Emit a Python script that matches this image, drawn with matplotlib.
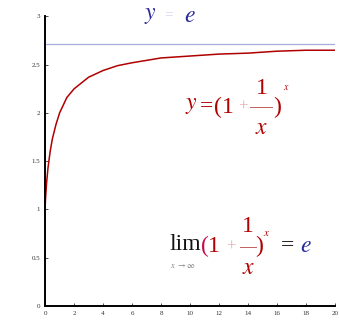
import matplotlib
matplotlib.use("Agg")
import matplotlib.pyplot as plt
from matplotlib.lines import Line2D

plt.rcParams['font.family'] = 'serif'
plt.rcParams['font.serif'] = ['Liberation Serif', 'DejaVu Serif']
plt.rcParams['mathtext.fontset'] = 'stix'

# Werte
x_vals = [0.005, 0.03, 0.1, 0.2, 0.35, 0.5, 0.75, 1.0, 1.5, 2.0, 3.0, 4.0, 5.0,
          6.0, 8.0, 10.0, 12.0, 14.0, 16.0, 18.0, 20.0]
y_vals = [1.03, 1.11, 1.27, 1.43, 1.60, 1.73, 1.88, 2.00, 2.16, 2.25, 2.37, 2.44,
          2.49, 2.52, 2.57, 2.59, 2.61, 2.62, 2.64, 2.65, 2.65]
e_level = 2.718
x_ticks = [0, 2, 4, 6, 8, 10, 12, 14, 16, 18, 20]
y_ticks = [0, 0.5, 1, 1.5, 2, 2.5, 3]
y_ticklabels = ['0', '0.5', '1', '1.5', '2', '2.5', '3']

W, H = 339, 323
red = '#b00000'
blue = '#2a2a9a'
faint_red = '#e8b0b0'

fig = plt.figure(figsize=(W / 100, H / 100), dpi=100)
ax = fig.add_axes([0.133, 0.053, 0.855, 0.896])

ax.axhline(e_level, color='#a4aed6', lw=0.9)
ax.plot(x_vals, y_vals, color=red, lw=1.1)

ax.set_xlim(0, 20)
ax.set_ylim(0, 3)
ax.set_xticks(x_ticks)
ax.set_yticks(y_ticks)
ax.set_xticklabels([str(t) for t in x_ticks])
ax.set_yticklabels(y_ticklabels)
ax.tick_params(labelsize=5, length=2, width=0.6, direction='in', colors='#333333')
ax.spines['top'].set_visible(False)
ax.spines['right'].set_visible(False)
ax.spines['left'].set_linewidth(1.4)
ax.spines['bottom'].set_linewidth(1.4)


# Text in Pixelkoordinaten setzen
def txt(px, py, s, color, size=17):
    fig.text(px / W, 1 - py / H, s, color=color, fontsize=size,
             ha='center', va='center')


def bar(x0, x1, py, color):
    fig.add_artist(Line2D([x0 / W, x1 / W], [1 - py / H, 1 - py / H],
                          color=color, lw=0.7, transform=fig.transFigure))


# y = e oben
txt(150, 16, r'$y$', blue, 17)
txt(169, 15, '=', '#d4d8ee', 11)
txt(190, 16, r'$e$', blue, 17)

# y = (1 + 1/x)^x
txt(191, 106, r'$y$', red)
txt(207, 107, '=', red)
txt(218, 107, '(', red)
txt(228, 107, '1', red)
txt(243, 107, '+', faint_red, 12)
bar(250, 272, 107, '#c06060')
txt(262, 88, '1', red)
txt(262, 128, r'$x$', red)
txt(277, 107, ')', red)
txt(286, 87, r'$x$', red, 7)

# lim (1 + 1/x)^x = e
txt(185, 245, 'lim', '#111111')
txt(183, 266, r'$x\ \to\infty$', '#777777', 6)
txt(205, 246, '(', '#c0104a')
txt(214, 246, '1', red)
txt(231, 247, '+', faint_red, 12)
bar(240, 256, 247, '#c06060')
txt(248, 226, '1', red)
txt(249, 268, r'$x$', red)
txt(259, 246, ')', red)
txt(267, 234, r'$x$', red, 8)
txt(287, 246, '=', '#111111')
txt(306, 246, r'$e$', blue)

fig.savefig('out.png', dpi=100)
